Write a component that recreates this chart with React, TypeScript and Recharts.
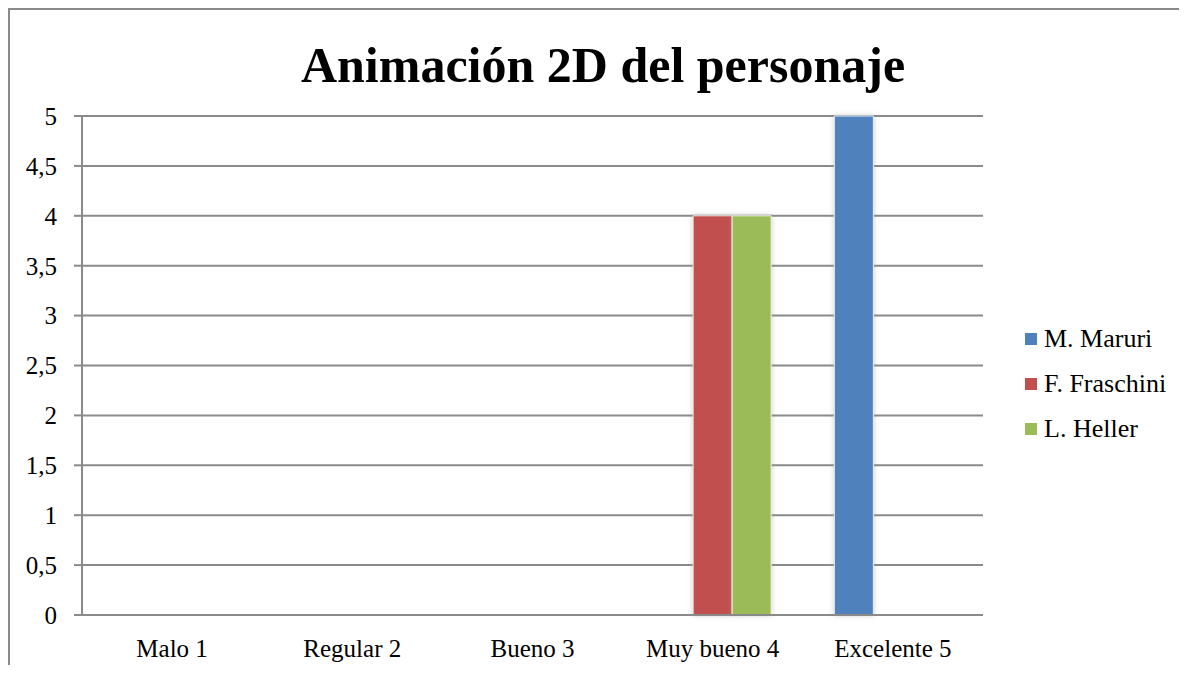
import { BarChart, Bar, XAxis, YAxis, CartesianGrid, Legend } from "recharts"

const categories = ["Malo 1", "Regular 2", "Bueno 3", "Muy bueno 4", "Excelente 5"]
const seriesNames = ["M. Maruri", "F. Fraschini", "L. Heller"]
const maruri = [0, 0, 0, 0, 5]
const fraschini = [0, 0, 0, 4, 0]
const heller = [0, 0, 0, 4, 0]
const yTicks = [0, 0.5, 1, 1.5, 2, 2.5, 3, 3.5, 4, 4.5, 5]

const data = categories.map((name, i) => ({
  name,
  maruri: maruri[i],
  fraschini: fraschini[i],
  heller: heller[i],
}))

const font = "'Liberation Serif', 'Times New Roman', serif"
const gridColor = "#8a8a8a"

function LegendBox({ payload }: any) {
  const items = [...(payload || [])].sort(
    (a: any, b: any) => seriesNames.indexOf(a.value) - seriesNames.indexOf(b.value)
  )
  return (
    <div style={{ fontFamily: font, fontSize: 26, color: "#000" }}>
      {items.map((item: any) => (
        <div key={item.value} style={{ display: "flex", alignItems: "center", height: 45 }}>
          <span style={{ width: 12, height: 12, background: item.color, marginRight: 7, display: "inline-block" }} />
          <span>{item.value}</span>
        </div>
      ))}
    </div>
  )
}

export default function App() {
  return (
    <div
      style={{
        width: 1179,
        height: 657,
        borderLeft: `2px solid ${gridColor}`,
        borderTop: `2px solid ${gridColor}`,
        boxSizing: "border-box",
        position: "relative",
        overflow: "hidden",
      }}
    >
      <div
        style={{
          position: "absolute",
          left: 193,
          top: 30,
          width: 800,
          textAlign: "center",
          fontFamily: font,
          fontWeight: "bold",
          fontSize: 50,
          lineHeight: "50px",
          color: "#000",
          whiteSpace: "nowrap",
        }}
      >
        Animación 2D del personaje
      </div>
      <BarChart
        width={1177}
        height={655}
        data={data}
        margin={{ top: 106, right: 204, left: 0, bottom: 10 }}
        barCategoryGap="17.5%"
        barGap={0}
      >
        <defs>
          <filter id="glow" x="-30%" y="-10%" width="160%" height="120%">
            <feDropShadow dx="0" dy="0" stdDeviation="2.5" floodColor="#999" floodOpacity="0.5" />
          </filter>
        </defs>
        <CartesianGrid vertical={false} stroke={gridColor} strokeWidth={2} />
        <XAxis
          dataKey="name"
          height={40}
          tickLine={false}
          tickSize={0}
          tickMargin={24}
          axisLine={{ stroke: gridColor, strokeWidth: 2 }}
          tick={{ fill: "#000", fontSize: 25, fontFamily: font }}
        />
        <YAxis
          width={72}
          domain={[0, 5]}
          ticks={yTicks}
          interval={0}
          tickSize={8}
          tickMargin={17}
          tickFormatter={(v: number) => String(v).replace(".", ",")}
          axisLine={{ stroke: gridColor, strokeWidth: 2 }}
          tickLine={{ stroke: gridColor, strokeWidth: 2 }}
          tick={{ fill: "#000", fontSize: 25, fontFamily: font }}
        />
        <Legend
          layout="vertical"
          align="center"
          verticalAlign="middle"
          content={<LegendBox />}
          wrapperStyle={{ left: 1015, top: 306, width: 160 }}
        />
        <Bar dataKey="maruri" name={seriesNames[0]} fill="#4F81BD" stroke="#e8eef6" strokeWidth={1} filter="url(#glow)" isAnimationActive={false} />
        <Bar dataKey="fraschini" name={seriesNames[1]} fill="#C0504D" stroke="#f4e6e5" strokeWidth={1} filter="url(#glow)" isAnimationActive={false} />
        <Bar dataKey="heller" name={seriesNames[2]} fill="#9BBB59" stroke="#eef3e4" strokeWidth={1} filter="url(#glow)" isAnimationActive={false} />
      </BarChart>
    </div>
  )
}
